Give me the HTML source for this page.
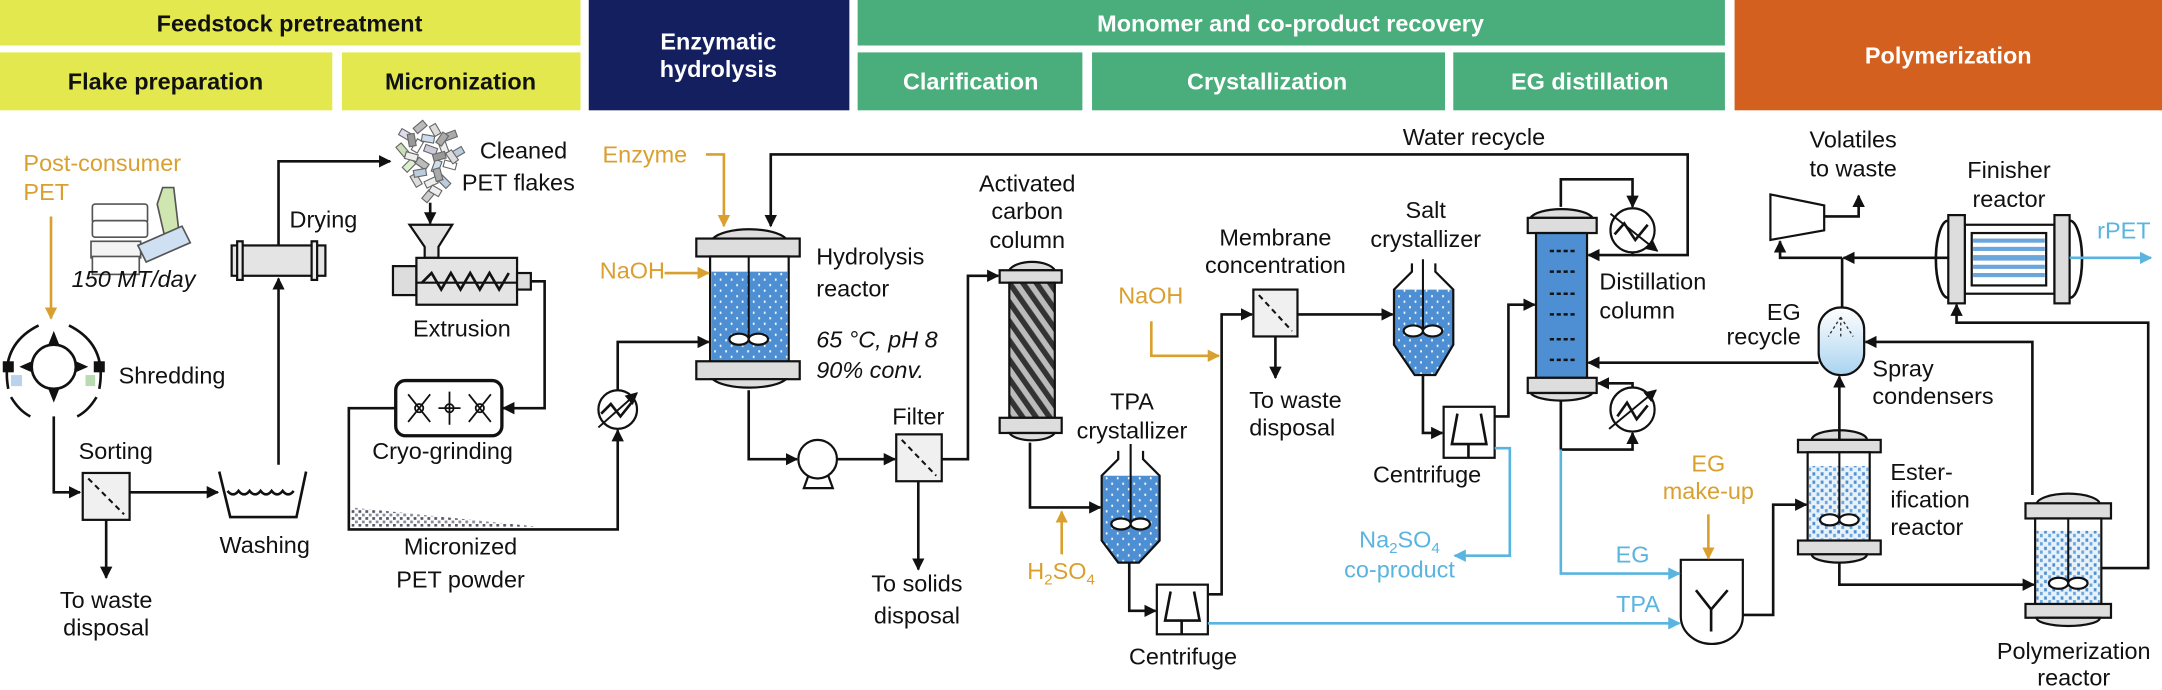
<!DOCTYPE html>
<html><head><meta charset="utf-8"><style>
html,body{margin:0;padding:0;background:#fff;width:2162px;height:690px;overflow:hidden}
svg{display:block}
text{font-family:"Liberation Sans",Arial,sans-serif;font-size:17px;fill:#111}
.h{font-weight:bold;font-size:17px;text-anchor:middle}
.w{fill:#fff}
.o{fill:#d9a030}
.b{fill:#5ab4e0}
.c{text-anchor:middle}
.i{font-style:italic}
.ln{fill:none;stroke:#111;stroke-width:1.9}
.lo{fill:none;stroke:#d9a030;stroke-width:1.9}
.lb{fill:none;stroke:#5ab4e0;stroke-width:1.9}
.s{stroke:#111;stroke-width:1.6}
</style></head><body>
<svg width="2162" height="690" viewBox="0 0 1568 500.4" preserveAspectRatio="none">
<defs>
<marker id="ak" viewBox="0 0 10 10" refX="9" refY="5" markerWidth="9" markerHeight="9" markerUnits="userSpaceOnUse" orient="auto"><path d="M0,0L10,5L0,10z" fill="#111"/></marker>
<marker id="ao" viewBox="0 0 10 10" refX="9" refY="5" markerWidth="9" markerHeight="9" markerUnits="userSpaceOnUse" orient="auto"><path d="M0,0L10,5L0,10z" fill="#d9a030"/></marker>
<marker id="ab" viewBox="0 0 10 10" refX="9" refY="5" markerWidth="9" markerHeight="9" markerUnits="userSpaceOnUse" orient="auto"><path d="M0,0L10,5L0,10z" fill="#5ab4e0"/></marker>
<pattern id="dots" width="8" height="8" patternUnits="userSpaceOnUse"><rect width="8" height="8" fill="#4d8fd2"/><rect x="2" y="2" width="1.2" height="1.6" fill="#fff"/><rect x="6" y="6" width="1.2" height="1.6" fill="#fff"/></pattern>
<pattern id="bd" width="6" height="6" patternUnits="userSpaceOnUse"><rect width="6" height="6" fill="#e8f2fb"/><rect x="0.5" y="0.5" width="2" height="2.4" fill="#4d8fd2"/><rect x="3.5" y="3.2" width="2" height="2.4" fill="#6aa5dc"/></pattern>
<pattern id="hat" width="8" height="8" patternUnits="userSpaceOnUse" patternTransform="rotate(-35)"><rect width="8" height="8" fill="#bbb"/><rect width="4" height="8" fill="#333"/></pattern>
<pattern id="pw" width="5" height="5" patternUnits="userSpaceOnUse"><rect x="0" y="0" width="2" height="2" fill="#556"/><rect x="2.5" y="2.5" width="2" height="2" fill="#889"/></pattern>
<linearGradient id="sg" x1="0" y1="0" x2="0" y2="1"><stop offset="0" stop-color="#fff"/><stop offset="1" stop-color="#a9d3f0"/></linearGradient>
</defs>

<rect x="0" y="0" width="421" height="33" fill="#e3e84f"/>
<rect x="0" y="38" width="241" height="42" fill="#e3e84f"/>
<rect x="248" y="38" width="173" height="42" fill="#e3e84f"/>
<rect x="427" y="0" width="189" height="80" fill="#131f5e"/>
<rect x="622" y="0" width="629" height="33" fill="#4aad7c"/>
<rect x="622" y="38" width="163" height="42" fill="#4aad7c"/>
<rect x="792" y="38" width="256" height="42" fill="#4aad7c"/>
<rect x="1054" y="38" width="197" height="42" fill="#4aad7c"/>
<rect x="1258" y="0" width="310" height="80" fill="#d4601f"/>
<text class="h" x="210" y="23">Feedstock pretreatment</text>
<text class="h" x="120" y="65">Flake preparation</text>
<text class="h" x="334" y="65">Micronization</text>
<text class="h w" x="521" y="36">Enzymatic</text>
<text class="h w" x="521" y="56">hydrolysis</text>
<text class="h w" x="936" y="23">Monomer and co-product recovery</text>
<text class="h w" x="704" y="65">Clarification</text>
<text class="h w" x="919" y="65">Crystallization</text>
<text class="h w" x="1153" y="65">EG distillation</text>
<text class="h w" x="1413" y="46">Polymerization</text>

<g stroke="#555" stroke-width="1.2" fill="#fff">
<path d="M114,148 L118,136 L126,136 L130,170 L120,174 Z" fill="#cfe6b0"/>
<rect x="67" y="148" width="40" height="14" rx="2"/>
<rect x="67" y="160" width="40" height="12" rx="2"/>
<rect x="66" y="175" width="36" height="12" fill="#f4f4f4"/>
<path d="M100,178 L132,164 L138,176 L106,190 Z" fill="#cfe0f2"/>
<rect x="67" y="186" width="34" height="13"/>
</g>
<g class="ln">
<path d="M6,282 Q0,250 28,236"/><path d="M50,236 Q78,250 72,282"/>
<path d="M8,288 Q14,298 22,302"/><path d="M70,288 Q64,298 56,302"/>
<circle cx="39" cy="266" r="16"/>
</g>
<g fill="#111"><path d="M35,250 L39,240 L43,250Z"/><path d="M35,282 L39,292 L43,282Z"/><path d="M23,262 L14,266 L23,270Z"/><path d="M55,262 L64,266 L55,270Z"/>
<rect x="2" y="262" width="8" height="8"/><rect x="68" y="262" width="8" height="8"/></g>
<rect x="8" y="272" width="8" height="8" fill="#b9d3ec"/><rect x="62" y="272" width="7" height="8" fill="#b8dcb0"/>
<rect x="60" y="343" width="34" height="34" fill="#f0f0f0" class="s"/>
<line x1="64" y1="347" x2="90" y2="373" stroke="#111" stroke-width="1.5" stroke-dasharray="4,3"/>
<path d="M159,342 L167,375 L215,375 L222,342" class="ln"/>
<path d="M165,356 q4,5 8,0 q4,5 8,0 q4,5 8,0 q4,5 8,0 q4,5 8,0 q4,5 8,0" class="ln" stroke-width="1.5"/>
<rect x="168" y="178" width="68" height="22" fill="#e4e4e4" class="s"/>
<rect x="172" y="175" width="4" height="28" fill="#eee" class="s"/><rect x="226" y="175" width="4" height="28" fill="#eee" class="s"/>
<g stroke="#666" stroke-width="0.8">
<rect x="290" y="95" width="8" height="5" fill="#dde" transform="rotate(30 294 97)"/>
<rect x="300" y="90" width="9" height="5" fill="#bbb" transform="rotate(-40 304 92)"/>
<rect x="312" y="92" width="8" height="5" fill="#ddd" transform="rotate(60 316 94)"/>
<rect x="322" y="96" width="9" height="5" fill="#aaa" transform="rotate(-20 326 98)"/>
<rect x="288" y="106" width="9" height="5" fill="#cdb" transform="rotate(50 292 108)"/>
<rect x="298" y="104" width="9" height="5" fill="#fff" transform="rotate(-60 302 106)"/>
<rect x="308" y="106" width="9" height="5" fill="#ccd" transform="rotate(20 312 108)"/>
<rect x="318" y="104" width="9" height="5" fill="#eee" transform="rotate(70 322 106)"/>
<rect x="328" y="108" width="8" height="5" fill="#bcd" transform="rotate(-30 332 110)"/>
<rect x="292" y="118" width="9" height="5" fill="#dec" transform="rotate(-45 296 120)"/>
<rect x="302" y="116" width="9" height="5" fill="#bbb" transform="rotate(35 306 118)"/>
<rect x="312" y="119" width="9" height="5" fill="#cde" transform="rotate(-70 316 121)"/>
<rect x="322" y="117" width="9" height="5" fill="#fff" transform="rotate(15 326 119)"/>
<rect x="298" y="128" width="9" height="5" fill="#ddd" transform="rotate(60 302 130)"/>
<rect x="308" y="130" width="9" height="5" fill="#eee" transform="rotate(-25 312 132)"/>
<rect x="318" y="129" width="9" height="5" fill="#bcd" transform="rotate(45 322 131)"/>
<rect x="306" y="140" width="8" height="5" fill="#ccc" transform="rotate(-50 310 142)"/>
<rect x="295" y="99" width="9" height="5" fill="#999" transform="rotate(80 299 101)"/>
<rect x="306" y="98" width="9" height="5" fill="#cde" transform="rotate(10 310 100)"/>
<rect x="316" y="99" width="9" height="5" fill="#aaa" transform="rotate(-55 320 101)"/>
<rect x="294" y="111" width="9" height="5" fill="#eee" transform="rotate(15 298 113)"/>
<rect x="314" y="111" width="9" height="5" fill="#999" transform="rotate(-15 318 113)"/>
<rect x="324" y="111" width="9" height="5" fill="#ddd" transform="rotate(55 328 113)"/>
<rect x="300" y="123" width="9" height="5" fill="#bcd" transform="rotate(-10 304 125)"/>
<rect x="314" y="124" width="9" height="5" fill="#aaa" transform="rotate(75 318 126)"/>
<rect x="312" y="136" width="8" height="5" fill="#eee" transform="rotate(30 316 138)"/>
</g>
<path d="M297,163 L328,163 L318,179 L318,187 L308,187 L308,179 Z" fill="#e4e4e4" class="s"/>
<rect x="285" y="193" width="17" height="21" fill="#ddd" class="s"/>
<rect x="302" y="187" width="73" height="34" fill="#e4e4e4" class="s"/>
<rect x="375" y="198" width="10" height="12" fill="#ddd" class="s"/>
<line x1="302" y1="205" x2="375" y2="205" stroke="#111" stroke-width="1.5"/>
<path d="M306,205 L313,198 L320,210 L327,198 L334,210 L341,198 L348,210 L355,198 L362,210 L369,198" class="ln" stroke-width="1.5"/>
<rect x="287" y="276" width="77" height="40" rx="7" fill="#fff" stroke="#111" stroke-width="2.4"/>
<g stroke="#111" stroke-width="1.3" fill="none">
<circle cx="304" cy="296" r="3"/><circle cx="326" cy="296" r="3"/><circle cx="348" cy="296" r="3"/>
<path d="M296,286 l16,20 M312,286 l-16,20 M318,296 h16 M326,284 v24 M340,286 l16,20 M356,286 l-16,20"/>
</g>
<path d="M255,368 L255,382 L390,382 Z" fill="url(#pw)"/>
<circle cx="448" cy="297" r="14" fill="#fff" class="s"/>
<path d="M436,300 L443,293 L450,302 L458,292" class="ln" stroke-width="1.4"/>
<line x1="434" y1="310" x2="462" y2="285" stroke="#111" stroke-width="1.4" marker-end="url(#ak)"/>

<path d="M517,173 A28,10 0 0 1 570,173 Z" fill="#ddd" class="s"/>
<rect x="505" y="173" width="75" height="13" fill="#ddd" class="s"/>
<rect x="515" y="186" width="57" height="76" fill="#fff" class="s"/>
<rect x="516" y="197" width="55" height="65" fill="url(#dots)"/>
<rect x="505" y="262" width="75" height="13" fill="#ddd" class="s"/>
<path d="M517,275 A28,9 0 0 0 570,275 Z" fill="#ddd" class="s"/>
<line x1="543" y1="186" x2="543" y2="246" stroke="#111" stroke-width="1.5"/>
<ellipse cx="536" cy="246" rx="7" ry="4" fill="#fff" class="s"/><ellipse cx="550" cy="246" rx="7" ry="4" fill="#fff" class="s"/>
<path d="M583,354 L587,343 L600,343 L604,354 Z" fill="#fff" class="s"/>
<circle cx="593" cy="333" r="14" fill="#fff" class="s"/>
<rect x="650" y="315" width="33" height="34" fill="#f0f0f0" class="s"/>
<line x1="654" y1="319" x2="679" y2="345" stroke="#111" stroke-width="1.5" stroke-dasharray="4,3"/>
<path d="M732,196 A17,8 0 0 1 765,196 Z" fill="#ddd" class="s"/>
<rect x="725" y="196" width="45" height="9" fill="#ddd" class="s"/>
<rect x="732" y="205" width="33" height="98" fill="url(#hat)" class="s"/>
<rect x="725" y="303" width="45" height="11" fill="#ddd" class="s"/>
<path d="M732,314 A17,7 0 0 0 765,314 Z" fill="#ddd" class="s"/>
<path d="M799,345 L841,345 L841,392 L826,408 L811,408 L799,392 Z" fill="url(#dots)"/>
<path d="M811,327 L811,333 L799,345 L799,392 L811,408 L826,408 L841,392 L841,345 L829,333 L829,327" fill="none" class="s"/>
<line x1="820" y1="322" x2="820" y2="380" stroke="#111" stroke-width="1.5"/>
<ellipse cx="813" cy="380" rx="7" ry="4" fill="#fff" class="s"/><ellipse cx="827" cy="380" rx="7" ry="4" fill="#fff" class="s"/>
<rect x="839" y="424" width="37" height="36" fill="#fff" class="s"/>
<path d="M849,429 L845,450 L870,450 L866,429 M857,450 V460" class="ln" stroke-width="1.4"/>
<rect x="909" y="210" width="32" height="34" fill="#f0f0f0" class="s"/>
<line x1="913" y1="214" x2="937" y2="240" stroke="#111" stroke-width="1.5" stroke-dasharray="4,3"/>
<path d="M1011,210 L1054,210 L1054,250 L1041,272 L1026,272 L1011,250 Z" fill="url(#dots)"/>
<path d="M1024,191 L1024,197 L1011,210 L1011,250 L1026,272 L1041,272 L1054,250 L1054,210 L1041,197 L1041,191" fill="none" class="s"/>
<line x1="1032" y1="188" x2="1032" y2="240" stroke="#111" stroke-width="1.5"/>
<ellipse cx="1025" cy="240" rx="7" ry="4" fill="#fff" class="s"/><ellipse cx="1039" cy="240" rx="7" ry="4" fill="#fff" class="s"/>
<rect x="1047" y="295" width="37" height="37" fill="#fff" class="s"/>
<path d="M1057,300 L1053,322 L1078,322 L1074,300 M1065,322 V332" class="ln" stroke-width="1.4"/>
<path d="M1110,158 A23,8 0 0 1 1155,158 Z" fill="#ddd" class="s"/>
<rect x="1108" y="158" width="50" height="11" fill="#ddd" class="s"/>
<rect x="1114" y="169" width="37" height="105" fill="#4d8fd2" class="s"/>
<g stroke="#111" stroke-width="1.8" stroke-dasharray="3,2">
<line x1="1124" y1="182" x2="1142" y2="182"/><line x1="1124" y1="197" x2="1142" y2="197"/><line x1="1124" y1="213" x2="1142" y2="213"/><line x1="1124" y1="228" x2="1142" y2="228"/><line x1="1124" y1="246" x2="1142" y2="246"/><line x1="1124" y1="261" x2="1142" y2="261"/></g>
<rect x="1108" y="274" width="50" height="11" fill="#ddd" class="s"/>
<path d="M1110,285 A23,7 0 0 0 1155,285 Z" fill="#ddd" class="s"/>
<circle cx="1184" cy="167" r="16" fill="#fff" class="s"/>
<path d="M1171,170 L1178,162 L1186,174 L1195,163" class="ln" stroke-width="1.4"/>
<line x1="1168" y1="155" x2="1202" y2="182" stroke="#111" stroke-width="1.4" marker-end="url(#ak)"/>
<circle cx="1184" cy="297" r="16" fill="#fff" class="s"/>
<path d="M1173,302 L1180,292 L1187,304 L1195,294" class="ln" stroke-width="1.4"/>
<line x1="1167" y1="311" x2="1201" y2="283" stroke="#111" stroke-width="1.4" marker-end="url(#ak)"/>
<path d="M1219,406 L1264,406 L1264,447 A22.5,20 0 0 1 1219,447 Z" fill="#fff" class="s"/>
<path d="M1230,428 L1241,442 L1253,428 M1241,442 V458" class="ln" stroke-width="1.5"/>
<path d="M1314,319 A20,7 0 0 1 1354,319 Z" fill="#ddd" class="s"/>
<rect x="1304" y="319" width="60" height="9" fill="#ddd" class="s"/>
<rect x="1311" y="328" width="45" height="64" fill="#fff" class="s"/>
<rect x="1312" y="338" width="43" height="53" fill="url(#bd)"/>
<rect x="1304" y="392" width="60" height="10" fill="#ddd" class="s"/>
<path d="M1314,402 A20,6 0 0 0 1354,402 Z" fill="#ddd" class="s"/>
<line x1="1334" y1="328" x2="1334" y2="377" stroke="#111" stroke-width="1.5"/>
<ellipse cx="1327" cy="377" rx="7" ry="4" fill="#fff" class="s"/><ellipse cx="1341" cy="377" rx="7" ry="4" fill="#fff" class="s"/>
<path d="M1477,366 A23,8 0 0 1 1523,366 Z" fill="#ddd" class="s"/>
<rect x="1469" y="365" width="62" height="11" fill="#ddd" class="s"/>
<rect x="1476" y="376" width="48" height="62" fill="#fff" class="s"/>
<rect x="1477" y="385" width="46" height="53" fill="url(#bd)"/>
<rect x="1469" y="438" width="62" height="10" fill="#ddd" class="s"/>
<path d="M1477,448 A23,6 0 0 0 1523,448 Z" fill="#ddd" class="s"/>
<line x1="1500" y1="376" x2="1500" y2="423" stroke="#111" stroke-width="1.5"/>
<ellipse cx="1493" cy="423" rx="7" ry="4" fill="#fff" class="s"/><ellipse cx="1507" cy="423" rx="7" ry="4" fill="#fff" class="s"/>
<rect x="1319" y="223" width="33" height="49" rx="16" fill="url(#sg)" class="s"/>
<g stroke="#333" stroke-width="1" stroke-dasharray="2,2"><line x1="1335" y1="230" x2="1335" y2="245"/><line x1="1335" y1="230" x2="1326" y2="244"/><line x1="1335" y1="230" x2="1344" y2="244"/></g>
<polygon points="1284,141 1323,149 1323,167 1284,174" fill="#fff" class="s"/>
<path d="M1413,160 A9,28 0 0 0 1413,216" class="ln"/>
<path d="M1501,160 A9,28 0 0 1 1501,216" class="ln"/>
<rect x="1425" y="163" width="65" height="50" fill="#fff" class="s"/>
<rect x="1413" y="156" width="12" height="64" fill="#ddd" class="s"/>
<rect x="1490" y="156" width="11" height="64" fill="#ddd" class="s"/>
<rect x="1430" y="169" width="54" height="38" fill="#fff" class="s"/>
<g fill="#6aa5dc"><rect x="1431" y="173" width="52" height="3"/><rect x="1431" y="179" width="52" height="3"/><rect x="1431" y="185" width="52" height="4"/><rect x="1431" y="192" width="52" height="3"/><rect x="1431" y="198" width="52" height="3"/></g>

<g class="ln" marker-end="url(#ak)">
<path d="M39,302 V357 H58"/>
<path d="M77,377 V419"/>
<path d="M94,357 H158"/>
<path d="M202,337 V202"/>
<path d="M202,178 V117 H283"/>
<path d="M312,147 V162"/>
<path d="M385,204 H395 V296 H365"/>
<path d="M287,296 H253 V384 H448 V312"/>
<path d="M448,283 V248 H514"/>
<path d="M1184,185 H1224 V112 H559 V164"/>
<path d="M1184,183 V185 H1152"/>
<path d="M1132,150 V130 H1184 V150"/>
<path d="M1132,291 V326 H1184 V314"/>
<path d="M1184,281 V278 H1159"/>
<path d="M543,283 V333 H578"/>
<path d="M607,333 H649"/>
<path d="M666,349 V413"/>
<path d="M683,333 H702 V200 H724"/>
<path d="M747,321 V368 H798"/>
<path d="M819,408 V443 H838"/>
<path d="M876,431 H886 V228 H908"/>
<path d="M925,244 V274"/>
<path d="M941,228 H1010"/>
<path d="M1032,272 V314 H1046"/>
<path d="M1084,302 H1094 V221 H1113"/>
<path d="M1264,446 H1286 V366 H1310"/>
<path d="M1334,408 V424 H1475"/>
<path d="M1334,319 V273"/>
<path d="M1319,263 H1152"/>
<path d="M1474,359 V248 H1353"/>
<path d="M1524,412 H1558 V234 H1419 V221"/>
<path d="M1413,187 H1337"/>
<path d="M1336,187 H1291 V175"/>
<path d="M1323,157 H1348 V142"/>
</g>
<path d="M1336,223 V187" class="ln"/>
<g class="lo" marker-end="url(#ao)">
<path d="M37,157 V231"/>
<path d="M512,112 H525 V164"/>
<path d="M482,198 H514"/>
<path d="M770,402 V371"/>
<path d="M835,233 V258 H884"/>
<path d="M1239,373 V405"/>
</g>
<g class="lb" marker-end="url(#ab)">
<path d="M1084,325 H1095 V403 H1055"/>
<path d="M1132,326 V416 H1218"/>
<path d="M876,452 H1218"/>
<path d="M1501,187 H1560"/>
</g>

<text class="o" x="17" y="124">Post-consumer</text>
<text class="o" x="17" y="145">PET</text>
<text class="i" x="52" y="208">150 MT/day</text>
<text x="86" y="278">Shredding</text>
<text x="57" y="333">Sorting</text>
<text class="c" x="77" y="441">To waste</text>
<text class="c" x="77" y="461">disposal</text>
<text class="c" x="192" y="401">Washing</text>
<text x="210" y="165">Drying</text>
<text x="348" y="115">Cleaned</text>
<text x="335" y="138">PET flakes</text>
<text class="c" x="335" y="244">Extrusion</text>
<text class="c" x="321" y="333">Cryo-grinding</text>
<text class="c" x="334" y="402">Micronized</text>
<text class="c" x="334" y="426">PET powder</text>
<text class="o" x="437" y="118">Enzyme</text>
<text class="o" x="435" y="202">NaOH</text>
<text x="592" y="192">Hydrolysis</text>
<text x="592" y="215">reactor</text>
<text class="i" x="592" y="252">65 °C, pH 8</text>
<text class="i" x="592" y="274">90% conv.</text>
<text class="c" x="745" y="139">Activated</text>
<text class="c" x="745" y="159">carbon</text>
<text class="c" x="745" y="180">column</text>
<text class="c" x="666" y="308">Filter</text>
<text class="c" x="665" y="429">To solids</text>
<text class="c" x="665" y="452">disposal</text>
<text class="o" x="745" y="420">H<tspan font-size="11" dy="4">2</tspan><tspan dy="-4">SO</tspan><tspan font-size="11" dy="4">4</tspan></text>
<text class="c" x="821" y="297">TPA</text>
<text class="c" x="821" y="318">crystallizer</text>
<text class="c" x="858" y="482">Centrifuge</text>
<text class="o" x="811" y="220">NaOH</text>
<text class="c" x="925" y="178">Membrane</text>
<text class="c" x="925" y="198">concentration</text>
<text x="906" y="296">To waste</text>
<text x="906" y="316">disposal</text>
<text class="c" x="1034" y="158">Salt</text>
<text class="c" x="1034" y="179">crystallizer</text>
<text class="c" x="1035" y="350">Centrifuge</text>
<text class="c" x="1069" y="105">Water recycle</text>
<text x="1160" y="210">Distillation</text>
<text x="1160" y="231">column</text>
<text class="b c" x="1015" y="397">Na<tspan font-size="11" dy="4">2</tspan><tspan dy="-4">SO</tspan><tspan font-size="11" dy="4">4</tspan></text>
<text class="b c" x="1015" y="419">co-product</text>
<text class="b c" x="1184" y="408">EG</text>
<text class="b c" x="1188" y="444">TPA</text>
<text class="o c" x="1239" y="342">EG</text>
<text class="o c" x="1239" y="362">make-up</text>
<text class="c" x="1344" y="107">Volatiles</text>
<text class="c" x="1344" y="128">to waste</text>
<text class="c" x="1457" y="129">Finisher</text>
<text class="c" x="1457" y="150">reactor</text>
<text class="b" x="1521" y="173">rPET</text>
<text x="1306" y="232" text-anchor="end">EG</text>
<text x="1306" y="250" text-anchor="end">recycle</text>
<text x="1358" y="273">Spray</text>
<text x="1358" y="293">condensers</text>
<text x="1371" y="348">Ester-</text>
<text x="1371" y="368">ification</text>
<text x="1371" y="388">reactor</text>
<text class="c" x="1504" y="478">Polymerization</text>
<text class="c" x="1504" y="497">reactor</text>
</svg>
</body></html>
